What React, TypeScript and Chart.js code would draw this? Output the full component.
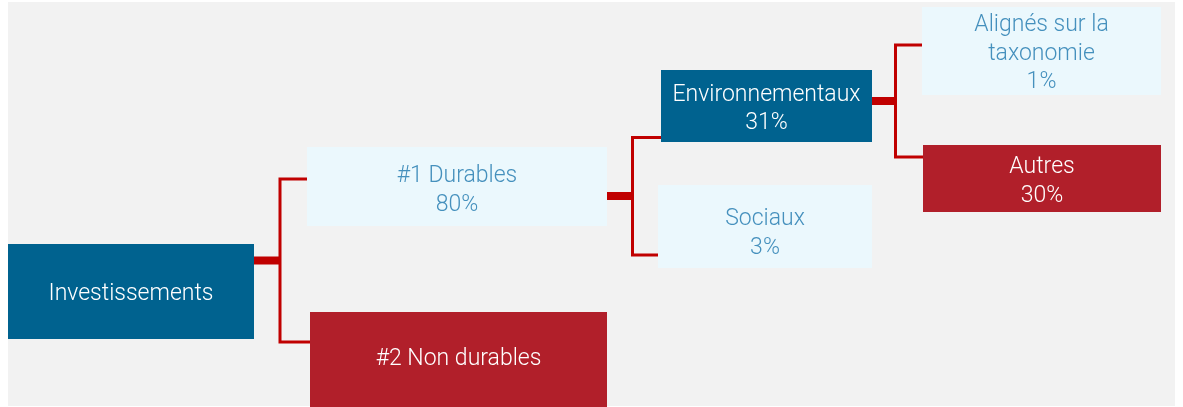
import React, { useEffect, useRef } from "react";
import { Chart, registerables } from "chart.js";

Chart.register(...registerables);

// ---- Data ----
const nodeLabels: string[][] = [
  ["Investissements"],
  ["#1 Durables"],
  ["#2 Non durables"],
  ["Environnementaux"],
  ["Sociaux"],
  ["Alignés sur la", "taxonomie"],
  ["Autres"],
];
const nodeValues: (number | null)[] = [null, 80, null, 31, 3, 1, 30];
const nodeParents: number[] = [-1, 0, 0, 1, 1, 3, 3];
const nodeKinds: string[] = ["dark", "light", "red", "dark", "light", "light", "red"];

// ---- Layout (in scale units == canvas pixels) ----
const boxLeft = [8, 307, 310, 661, 658, 922, 923];
const boxRight = [254, 607, 607, 872, 872, 1161, 1161];
const boxTop = [244, 147, 312, 70, 185, 7, 145];
const boxBottom = [339, 226, 410, 142, 268, 95, 212];
const textOffset = [0, 1, -5, 0, 4, 0, 0];
// connector per parent node
const stubY: Record<number, number> = { 0: 260.5, 1: 196, 3: 101 };
const trunkX: Record<number, number> = { 0: 280, 1: 632.5, 3: 895.5 };
const branchY = [0, 179, 342, 137.5, 255, 45, 157];

const COLORS: Record<string, { fill: string; text: string }> = {
  dark: { fill: "#00628f", text: "#ffffff" },
  light: { fill: "#ebf8fd", text: "#4590bd" },
  red: { fill: "#b11f2a", text: "#ffffff" },
};
const LINE = "#c00000";
const BG = "#f2f2f2";
const FONT = "300 23px Roboto, 'Noto Sans', sans-serif";
const LINE_H = 28.5;

const treePlugin = {
  id: "tree",
  beforeDatasetsDraw(chart: any) {
    const { ctx, scales } = chart;
    const X = (v: number) => scales.x.getPixelForValue(v);
    const Y = (v: number) => scales.y.getPixelForValue(v);
    ctx.save();
    // background panel
    ctx.fillStyle = BG;
    ctx.fillRect(X(8), Y(2), X(1175) - X(8), Y(406) - Y(2));

    // connectors
    ctx.strokeStyle = LINE;
    Object.keys(stubY).forEach((k) => {
      const p = Number(k);
      const kids = nodeParents.map((pp, i) => (pp === p ? i : -1)).filter((i) => i >= 0);
      // thick stub
      ctx.lineWidth = 8;
      ctx.beginPath();
      ctx.moveTo(X(boxRight[p]), Y(stubY[p]));
      ctx.lineTo(X(trunkX[p]), Y(stubY[p]));
      ctx.stroke();
      // bracket
      ctx.lineWidth = 3;
      ctx.lineJoin = "miter";
      const ys = kids.map((c) => branchY[c]);
      const top = Math.min(...ys);
      const bot = Math.max(...ys);
      const topKid = kids[ys.indexOf(top)];
      const botKid = kids[ys.indexOf(bot)];
      ctx.beginPath();
      ctx.moveTo(X(boxLeft[topKid]), Y(top));
      ctx.lineTo(X(trunkX[p]), Y(top));
      ctx.lineTo(X(trunkX[p]), Y(bot));
      ctx.lineTo(X(boxLeft[botKid]), Y(bot));
      ctx.stroke();
    });

    // boxes
    ctx.font = FONT;
    ctx.textAlign = "center";
    ctx.textBaseline = "middle";
    nodeLabels.forEach((lines, i) => {
      const c = COLORS[nodeKinds[i]];
      const x0 = X(boxLeft[i]);
      const x1 = X(boxRight[i]);
      const y0 = Y(boxTop[i]);
      const y1 = Y(Math.min(boxBottom[i], 407));
      ctx.fillStyle = c.fill;
      ctx.fillRect(x0, y0, x1 - x0, y1 - y0);
      const all = [...lines];
      if (nodeValues[i] !== null) all.push(nodeValues[i] + "%");
      const cx = (x0 + x1) / 2;
      const cy = (Y(boxTop[i]) + Y(boxBottom[i])) / 2 + textOffset[i];
      ctx.fillStyle = c.text;
      all.forEach((t, j) => {
        const y = cy + (j - (all.length - 1) / 2) * LINE_H;
        ctx.fillText(t, cx, y + 3);
      });
    });
    ctx.restore();
  },
};

export default function App() {
  const ref = useRef<HTMLCanvasElement | null>(null);
  useEffect(() => {
    if (!ref.current) return;
    const chart = new Chart(ref.current, {
      type: "scatter",
      data: {
        datasets: [
          {
            label: "nodes",
            data: nodeLabels.map((_, i) => ({
              x: (boxLeft[i] + boxRight[i]) / 2,
              y: (boxTop[i] + boxBottom[i]) / 2,
            })),
            pointRadius: 0,
            pointHoverRadius: 0,
          },
        ],
      },
      options: {
        animation: false,
        responsive: false,
        layout: { padding: 0 },
        plugins: { legend: { display: false }, tooltip: { enabled: false } },
        events: [],
        scales: {
          x: { type: "linear", min: 0, max: 1183, display: false },
          y: { type: "linear", min: 0, max: 407, reverse: true, display: false },
        },
      },
      plugins: [treePlugin],
    });
    if ((document as any).fonts && (document as any).fonts.load) {
      (document as any).fonts.load(FONT).then(() => chart.draw()).catch(() => {});
    }
    return () => chart.destroy();
  }, []);
  return (
    <div style={{ position: "fixed", left: 0, top: 0, width: 1183, height: 407, background: "#ffffff" }}>
      <canvas ref={ref} width={1183} height={407} style={{ display: "block" }} />
    </div>
  );
}
